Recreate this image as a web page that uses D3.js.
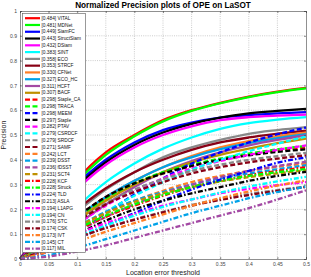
<!DOCTYPE html>
<html>
<head>
  <meta charset="utf-8">
  <title>Normalized Precision plots of OPE on LaSOT</title>
  <script src="https://d3js.org/d3.v7.min.js"></script>
  <style>
    body { margin: 0; background: #fff; }
    svg { display: block; font-family: "Liberation Sans", Arial, sans-serif; }
    .axis text { font-size: 5px; fill: #444; }
    .axis path, .axis line { stroke: #444; stroke-width: 0.6; }
    .grid line { stroke: #aaa; stroke-width: 0.6; stroke-dasharray: 1,1.2; }
    .curve { fill: none; stroke-width: 2.3; }
    .legend text { font-size: 4.8px; fill: #111; }
  </style>
</head>
<body>
  <svg id="chart"></svg>

  <script>
    // thresholds and ticks
    const thresholds = [0, 0.05, 0.1, 0.15, 0.2, 0.25, 0.3, 0.35, 0.4, 0.45, 0.5];
    const xTicks = [0, 0.05, 0.1, 0.15, 0.2, 0.25, 0.3, 0.35, 0.4, 0.45, 0.5];
    const yTicks = [0, 0.1, 0.2, 0.3, 0.4, 0.5, 0.6, 0.7, 0.8, 0.9, 1];

    // tracker names and scores (legend order)
    const trackers = ["VITAL", "MDNet", "SiamFC", "StructSiam", "DSiam", "SINT", "ECO", "STRCF",
      "CFNet", "ECO_HC", "HCFT", "BACF", "Staple_CA", "TRACA", "MEEM", "Staple", "PTAV", "CSRDCF",
      "SRDCF", "SAMF", "LCT", "DSST", "fDSST", "SCT4", "KCF", "Struck", "TLD", "ASLA", "L1APG",
      "CN", "STC", "CSK", "IVT", "CT", "MIL"];
    const scores = [0.484, 0.481, 0.449, 0.443, 0.432, 0.383, 0.358, 0.353, 0.330, 0.327, 0.311,
      0.307, 0.298, 0.298, 0.298, 0.297, 0.282, 0.279, 0.279, 0.271, 0.242, 0.239, 0.236, 0.231,
      0.228, 0.228, 0.224, 0.213, 0.194, 0.194, 0.176, 0.174, 0.173, 0.145, 0.117];

    // precision at each threshold
    const vital      = [0, .16, .32, .43, .50, .56, .60, .63, .655, .675, .69];
    const mdnet      = [0, .15, .31, .42, .495, .555, .597, .628, .653, .673, .688];
    const siamfc     = [0, .15, .30, .40, .47, .52, .55, .57, .58, .587, .592];
    const structsiam = [0, .14, .29, .39, .46, .51, .545, .57, .587, .597, .605];
    const dsiam      = [0, .13, .28, .38, .45, .50, .535, .56, .572, .578, .582];
    const sint       = [0, .09, .21, .31, .385, .445, .49, .525, .548, .562, .572];
    const eco        = [0, .09, .19, .28, .35, .41, .45, .48, .505, .52, .532];
    const strcf      = [0, .10, .20, .285, .35, .40, .44, .47, .49, .505, .518];
    const cfnet      = [0, .07, .16, .245, .315, .37, .415, .45, .475, .495, .51];
    const ecoHc      = [0, .08, .17, .25, .315, .37, .41, .443, .467, .487, .503];
    const hcft       = [0, .06, .14, .22, .29, .35, .395, .43, .458, .48, .498];
    const bacf       = [0, .07, .155, .235, .30, .35, .39, .42, .445, .467, .486];
    const stapleCa   = [0, .08, .17, .25, .305, .345, .375, .40, .42, .437, .45];
    const traca      = [0, .07, .165, .245, .305, .35, .38, .405, .425, .442, .456];
    const meem       = [0, .045, .11, .185, .26, .325, .385, .43, .47, .503, .53];
    const staple     = [0, .075, .17, .25, .305, .345, .375, .40, .418, .432, .442];
    const ptav       = [0, .06, .14, .215, .275, .325, .365, .395, .42, .44, .458];
    const csrdcf     = [0, .05, .12, .19, .255, .31, .36, .40, .435, .465, .494];
    const srdcf      = [0, .065, .15, .225, .28, .322, .355, .38, .40, .415, .428];
    const samf       = [0, .07, .15, .22, .27, .31, .345, .37, .39, .405, .418];
    const lct        = [0, .05, .12, .185, .235, .275, .31, .335, .355, .372, .385];
    const dsst       = [0, .06, .13, .19, .235, .27, .30, .325, .345, .362, .378];
    const fdsst      = [0, .045, .11, .17, .22, .265, .30, .33, .355, .375, .392];
    const sct4       = [0, .06, .13, .185, .23, .265, .29, .313, .33, .345, .358];
    const kcf        = [0, .05, .115, .17, .215, .255, .29, .315, .338, .355, .37];
    const struck     = [0, .055, .12, .175, .22, .258, .29, .315, .335, .35, .363];
    const tld        = [0, .03, .08, .135, .185, .235, .28, .32, .355, .388, .41];
    const asla       = [0, .04, .10, .155, .20, .235, .265, .29, .315, .335, .351];
    const l1apg      = [0, .045, .10, .145, .18, .215, .24, .265, .283, .298, .31];
    const cn         = [0, .04, .09, .135, .175, .21, .24, .268, .292, .313, .331];
    const stc        = [0, .04, .085, .125, .16, .19, .218, .242, .262, .278, .292];
    const csk        = [0, .04, .085, .125, .158, .188, .215, .238, .258, .275, .29];
    const ivt        = [0, .03, .07, .11, .145, .18, .215, .245, .272, .296, .317];
    const ct         = [0, .015, .045, .08, .115, .15, .185, .215, .245, .27, .292];
    const mil        = [0, .01, .03, .055, .085, .115, .145, .175, .205, .24, .277];

    const series = [vital, mdnet, siamfc, structsiam, dsiam, sint, eco, strcf, cfnet, ecoHc,
      hcft, bacf, stapleCa, traca, meem, staple, ptav, csrdcf, srdcf, samf, lct, dsst, fdsst,
      sct4, kcf, struck, tld, asla, l1apg, cn, stc, csk, ivt, ct, mil];

    // 12 colours, repeated with solid / dashed / dash-dot
    const palette = ["#ff0000", "#00ff00", "#0000ff", "#000000", "#ff00ff", "#00ffff",
      "#888888", "#880015", "#ff7f27", "#00a2e8", "#a349a4", "#bf9000"];
    const dashes = [null, "5,2.5", "5,2,1.6,2"];

    const width = 311, height = 277;
    const margin = { top: 11, right: 5, bottom: 18, left: 20 };

    const svg = d3.select("#chart").attr("width", width).attr("height", height);

    const x = d3.scaleLinear().domain([0, 0.5]).range([margin.left, width - margin.right]);
    const y = d3.scaleLinear().domain([0, 1]).range([height - margin.bottom, margin.top]);

    // grid
    const grid = svg.append("g").attr("class", "grid");
    grid.selectAll(".gx").data(xTicks.slice(1, -1)).enter().append("line")
      .attr("x1", d => x(d)).attr("x2", d => x(d))
      .attr("y1", y(0)).attr("y2", y(1));
    grid.selectAll(".gy").data(yTicks.slice(1, -1)).enter().append("line")
      .attr("x1", x(0)).attr("x2", x(0.5))
      .attr("y1", d => y(d)).attr("y2", d => y(d));

    // curves
    const line = d3.line()
      .x((d, i) => x(thresholds[i]))
      .y(d => y(d))
      .curve(d3.curveMonotoneX);

    svg.append("g").selectAll("path").data(series).enter().append("path")
      .attr("class", "curve")
      .attr("d", line)
      .attr("stroke", (d, i) => palette[i % 12])
      .attr("stroke-dasharray", (d, i) => dashes[Math.floor(i / 12)]);

    // axes
    const fmt = d => d3.format("~g")(d);
    svg.append("g").attr("class", "axis")
      .attr("transform", `translate(0,${y(0)})`)
      .call(d3.axisBottom(x).tickValues(xTicks).tickFormat(fmt).tickSize(-2).tickPadding(3));
    svg.append("g").attr("class", "axis")
      .attr("transform", `translate(${x(0)},0)`)
      .call(d3.axisLeft(y).tickValues(yTicks).tickFormat(fmt).tickSize(-2).tickPadding(3));
    svg.append("g").attr("class", "axis")
      .attr("transform", `translate(0,${y(1)})`)
      .call(d3.axisTop(x).tickValues(xTicks).tickFormat("").tickSize(-2));
    svg.append("g").attr("class", "axis")
      .attr("transform", `translate(${x(0.5)},0)`)
      .call(d3.axisRight(y).tickValues(yTicks).tickFormat("").tickSize(-2));

    // legend
    const lg = svg.append("g").attr("class", "legend");
    lg.append("rect")
      .attr("x", 22.5).attr("y", 13.5).attr("width", 63).attr("height", 239)
      .attr("fill", "#fff").attr("stroke", "#555").attr("stroke-width", 0.6);
    const rows = lg.selectAll(".row").data(trackers).enter().append("g")
      .attr("transform", (d, i) => `translate(0,${18.2 + i * 6.78})`);
    rows.append("line")
      .attr("x1", 25).attr("x2", 40).attr("y1", 0).attr("y2", 0)
      .attr("stroke-width", 2.2)
      .attr("stroke", (d, i) => palette[i % 12])
      .attr("stroke-dasharray", (d, i) => dashes[Math.floor(i / 12)]);
    rows.append("text")
      .attr("x", 41.5).attr("y", 1.7)
      .text((d, i) => `[${scores[i].toFixed(3)}] ${d}`);

    // title and labels
    svg.append("text")
      .attr("x", (x(0) + x(0.5)) / 2).attr("y", 8)
      .attr("text-anchor", "middle")
      .style("font-size", "8.2px").style("font-weight", "bold")
      .text("Normalized Precision plots of OPE on LaSOT");
    svg.append("text")
      .attr("x", (x(0) + x(0.5)) / 2).attr("y", 275)
      .attr("text-anchor", "middle")
      .style("font-size", "7px").style("fill", "#222")
      .text("Location error threshold");
    svg.append("text")
      .attr("transform", `translate(6,${(y(0) + y(1)) / 2}) rotate(-90)`)
      .attr("text-anchor", "middle")
      .style("font-size", "7px").style("fill", "#222")
      .text("Precision");
  </script>
</body>
</html>
